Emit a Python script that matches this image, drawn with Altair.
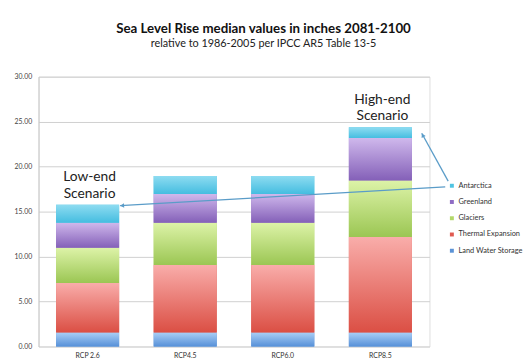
import altair as alt
import pandas as pd

scenarios = ["RCP 2.6", "RCP4.5", "RCP6.0", "RCP8.5"]
components = ["Land Water Storage", "Thermal Expansion", "Glaciers", "Greenland", "Antarctica"]
land_water = [1.57, 1.57, 1.57, 1.57]
thermal = [5.5, 7.5, 7.5, 10.6]
glaciers = [3.9, 4.7, 4.7, 6.3]
greenland = [2.8, 3.2, 3.2, 4.7]
antarctica = [2.0, 2.0, 2.0, 1.2]

legend_order = ["Antarctica", "Greenland", "Glaciers", "Thermal Expansion", "Land Water Storage"]
legend_colors = ["#4fc4e2", "#8f6cc4", "#b3d86a", "#e05a50", "#5b93d6"]
grad_top = {"Land Water Storage": "#aacff6", "Thermal Expansion": "#f9adaa",
            "Glaciers": "#ddf3a8", "Greenland": "#cfb8ec", "Antarctica": "#8edcf1"}
grad_bot = {"Land Water Storage": "#5690d8", "Thermal Expansion": "#db4f44",
            "Glaciers": "#9bc653", "Greenland": "#8460b8", "Antarctica": "#45bde0"}

series = [land_water, thermal, glaciers, greenland, antarctica]
rows = []
for ci, (comp, vals) in enumerate(zip(components, series)):
    for s, v in zip(scenarios, vals):
        rows.append({"scenario": s, "component": comp, "value": v, "order": ci})
df = pd.DataFrame(rows)

totals = df.groupby("scenario", sort=False)["value"].sum().reset_index()
ann = pd.DataFrame({"scenario": ["RCP 2.6", "RCP8.5"],
                    "label": ["Low-end\nScenario", "High-end\nScenario"]})
ann = ann.merge(totals, on="scenario")

FONT = "Lato"
xscale = alt.Scale(domain=scenarios, paddingInner=0.354, paddingOuter=0.18)
yscale = alt.Scale(domain=[0, 30])

base = alt.Chart(df)
xenc = alt.X("scenario:N", scale=xscale, sort=scenarios,
             axis=alt.Axis(title=None, labelAngle=0, ticks=False, domain=False,
                           labelFontSize=7, labelColor="#333", labelFont=FONT, labelPadding=5))
yenc = alt.Y("y0:Q", scale=yscale,
             axis=alt.Axis(title=None, values=[0, 5, 10, 15, 20, 25, 30], format=".2f",
                           labelFontSize=7, labelColor="#444", labelFont=FONT, ticks=False,
                           labelPadding=7, domain=True, domainColor="#c8c8c8",
                           gridColor="#cfcfcf", gridWidth=1))

stacked = base.transform_stack(
    stack="value", groupby=["scenario"], as_=["y0", "y1"],
    sort=[alt.SortField("order", order="ascending")])

legend_layer = stacked.mark_bar().encode(
    x=xenc, y=yenc, y2="y1:Q",
    color=alt.Color("component:N",
                    scale=alt.Scale(domain=legend_order, range=legend_colors),
                    legend=alt.Legend(title=None, orient="none", legendX=416, legendY=107,
                                      symbolType="square", symbolSize=16, symbolStrokeWidth=0,
                                      labelFontSize=7.5, labelFont=FONT, labelColor="#333",
                                      rowPadding=7.5, labelOffset=3)))

layers = [legend_layer]
for comp in components:
    g = alt.Gradient(gradient="linear",
                     stops=[alt.GradientStop(color=grad_top[comp], offset=0),
                            alt.GradientStop(color=grad_bot[comp], offset=1)],
                     x1=0, x2=0, y1=0, y2=1)
    layers.append(stacked.transform_filter(alt.datum.component == comp)
                  .mark_bar(color=g).encode(x=alt.X("scenario:N", scale=xscale, sort=scenarios),
                                            y=alt.Y("y0:Q", scale=yscale), y2="y1:Q"))

tot = alt.Chart(totals)
arrow_color = "#5a9cc8"
hi = tot.transform_filter(alt.datum.scenario == "RCP8.5")
lo = tot.transform_filter(alt.datum.scenario == "RCP 2.6")
xb = alt.X("scenario:N", scale=xscale, sort=scenarios, bandPosition=1)
yb = alt.Y("value:Q", scale=yscale)
arr_hi = hi.mark_rule(color=arrow_color, strokeWidth=1.3, xOffset=10, yOffset=6,
                      x2Offset=0, y2Offset=0).encode(
    x=xb, y=yb, x2=alt.value(416), y2=alt.value(106))
arr_lo = lo.mark_rule(color=arrow_color, strokeWidth=1.3, xOffset=1, yOffset=1,
                      x2Offset=0, y2Offset=0).encode(
    x=xb, y=yb, x2=alt.value(413), y2=alt.value(112))
head_hi = hi.mark_point(shape="triangle-up", filled=True, color=arrow_color, size=22,
                        angle=332, opacity=1, xOffset=11, yOffset=8).encode(x=xb, y=yb)
head_lo = lo.mark_point(shape="triangle-up", filled=True, color=arrow_color, size=22,
                        angle=267, opacity=1, xOffset=3, yOffset=1).encode(x=xb, y=yb)

labels = alt.Chart(ann).mark_text(font=FONT, fontSize=14, lineBreak="\n", lineHeight=17,
                                  baseline="alphabetic", dy=-24, dx=2, color="#222").encode(
    x=alt.X("scenario:N", scale=xscale, sort=scenarios),
    y=alt.Y("value:Q", scale=yscale), text="label:N")

chart = alt.layer(*layers, arr_hi, arr_lo, head_hi, head_lo, labels).properties(
    width=397, height=274,
    padding={"left": 31, "top": 67, "right": 96, "bottom": 14},
    autosize=alt.AutoSizeParams(type="none"),
    title=alt.TitleParams(text="Sea Level Rise median values in inches 2081-2100",
                          subtitle="relative to 1986-2005 per IPCC AR5 Table 13-5",
                          anchor="middle", dx=30, offset=24, font=FONT, fontSize=13.5,
                          fontWeight="bold", color="#111", subtitleFont=FONT,
                          subtitleFontSize=11, subtitleColor="#222", subtitlePadding=3),
).configure_view(stroke=None).configure(background="white")

chart.save("out.html", embed_options={"renderer": "svg", "actions": False})
